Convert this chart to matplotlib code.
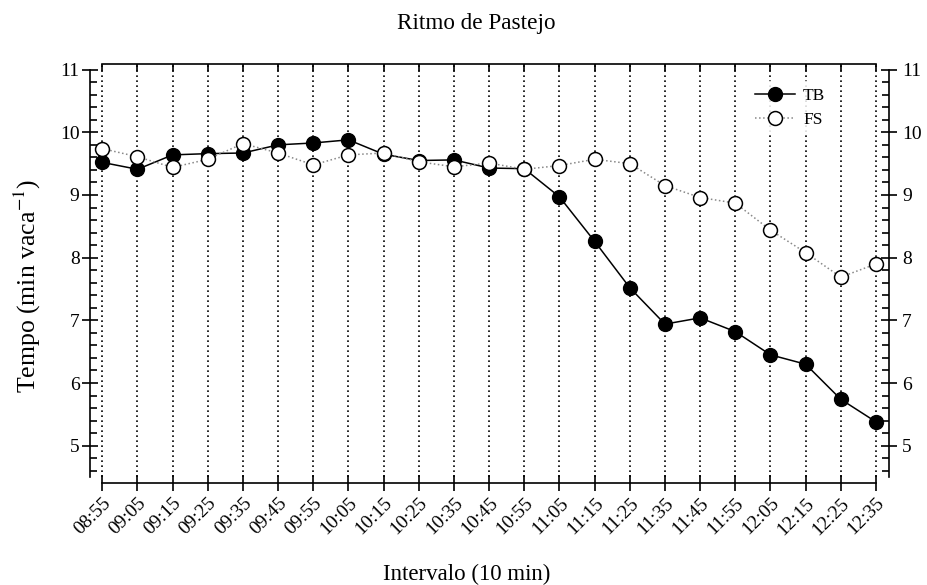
import numpy as np
import matplotlib
matplotlib.use('Agg')
import matplotlib.pyplot as plt
from matplotlib.ticker import MultipleLocator

plt.rcParams['font.family'] = ['Liberation Serif', 'DejaVu Serif']
plt.rcParams['mathtext.fontset'] = 'stix'

# Data
times = ['08:55', '09:05', '09:15', '09:25', '09:35', '09:45', '09:55', '10:05',
         '10:15', '10:25', '10:35', '10:45', '10:55', '11:05', '11:15', '11:25',
         '11:35', '11:45', '11:55', '12:05', '12:15', '12:25', '12:35']
tb = [9.52, 9.41, 9.64, 9.66, 9.67, 9.80, 9.83, 9.88, 9.65, 9.55, 9.56, 9.43,
      9.42, 8.97, 8.26, 7.52, 6.94, 7.04, 6.82, 6.45, 6.30, 5.74, 5.38]
fs = [9.74, 9.61, 9.44, 9.57, 9.82, 9.67, 9.48, 9.64, 9.67, 9.53, 9.45, 9.51,
      9.41, 9.47, 9.57, 9.50, 9.15, 8.96, 8.87, 8.44, 8.08, 7.69, 7.90]
yticks = [5, 6, 7, 8, 9, 10, 11]

x = np.arange(len(times))
ylim = (4.405, 11.09)
xlim = (-0.35, len(times) - 1 + 0.37)

fig = plt.figure(figsize=(9.28, 5.85), dpi=100)
ax = fig.add_axes([90 / 928, 1 - 483 / 585, (889 - 90) / 928, (483 - 64) / 585])

# vertical dotted grid
ax.vlines(x, 4.5, ylim[1], colors='black', linestyles=(0, (1, 2)), linewidth=1.2, zorder=1)

ax.plot(x, tb, '-', color='black', lw=1.1, marker='o', ms=10, mfc='black', mec='black',
        label='TB', zorder=3)
ax.plot(x, fs, ':', color='#888888', lw=1.1, marker='o', ms=10, mfc='white', mec='black',
        mew=1.1, label='FS', zorder=4)

ax.set_xlim(xlim)
ax.set_ylim(ylim)
ax.set_xticks(x)
ax.set_xticklabels(times, rotation=45, ha='right', rotation_mode='anchor', fontsize=14)
ax.set_yticks(yticks)
ax.set_yticklabels([str(v) for v in yticks], fontsize=14)
ax.yaxis.set_minor_locator(MultipleLocator(0.2))

ax.spines['left'].set_bounds(4.5, 11)
ax.spines['bottom'].set_bounds(0, len(times) - 1)
ax.spines['top'].set_visible(False)
ax.spines['right'].set_visible(False)
for s in ['left', 'bottom']:
    ax.spines[s].set_linewidth(1.2)

ax.tick_params(axis='y', which='major', direction='inout', length=11, width=1.2, pad=2)
ax.tick_params(axis='y', which='minor', direction='in', length=5, width=1.2)
ax.tick_params(axis='x', which='major', direction='inout', length=11, width=1.2, pad=3)

# right axis
axr = ax.twinx()
axr.set_ylim(ylim)
axr.set_yticks(yticks)
axr.set_yticklabels([str(v) for v in yticks], fontsize=14)
axr.yaxis.set_minor_locator(MultipleLocator(0.2))
axr.spines['right'].set_bounds(4.5, 11)
axr.spines['right'].set_linewidth(1.2)
for s in ['left', 'top', 'bottom']:
    axr.spines[s].set_visible(False)
axr.tick_params(axis='y', which='major', direction='inout', length=11, width=1.2, pad=4)
axr.tick_params(axis='y', which='minor', direction='in', length=5, width=1.2)

# top axis
axt = ax.twiny()
axt.set_xlim(xlim)
axt.set_xticks(x)
axt.set_xticklabels([])
axt.spines['top'].set_bounds(0, len(times) - 1)
axt.spines['top'].set_linewidth(1.2)
for s in ['left', 'right', 'bottom']:
    axt.spines[s].set_visible(False)
axt.tick_params(axis='x', which='major', direction='in', length=5, width=1.2)

ax.text((476 - 90) / 799, (483 - 24) / 419, 'Ritmo de Pastejo', transform=ax.transAxes,
        ha='center', va='center', fontsize=16.7)
ax.set_xlabel('Intervalo (10 min)', fontsize=16.5)
ax.xaxis.set_label_coords((467 - 90) / 799, (483 - 574) / 419)
ax.xaxis.label.set_va('center')
ax.set_ylabel('Tempo (min vaca$^{-1}$)', fontsize=18.5)
ax.yaxis.set_label_coords((27 - 90) / 799, (483 - 286) / 419)
ax.yaxis.label.set_va('center')

leg = axt.legend(*ax.get_legend_handles_labels(), loc='upper right',
                 bbox_to_anchor=(0.94, 0.98), frameon=True, fontsize=12.5,
                 handlelength=2.3, handletextpad=0.5, labelspacing=0.45)
leg.get_frame().set_edgecolor('none')
leg.get_frame().set_facecolor('white')
leg.get_frame().set_alpha(0.85)

fig.savefig('out.png', dpi=100)
